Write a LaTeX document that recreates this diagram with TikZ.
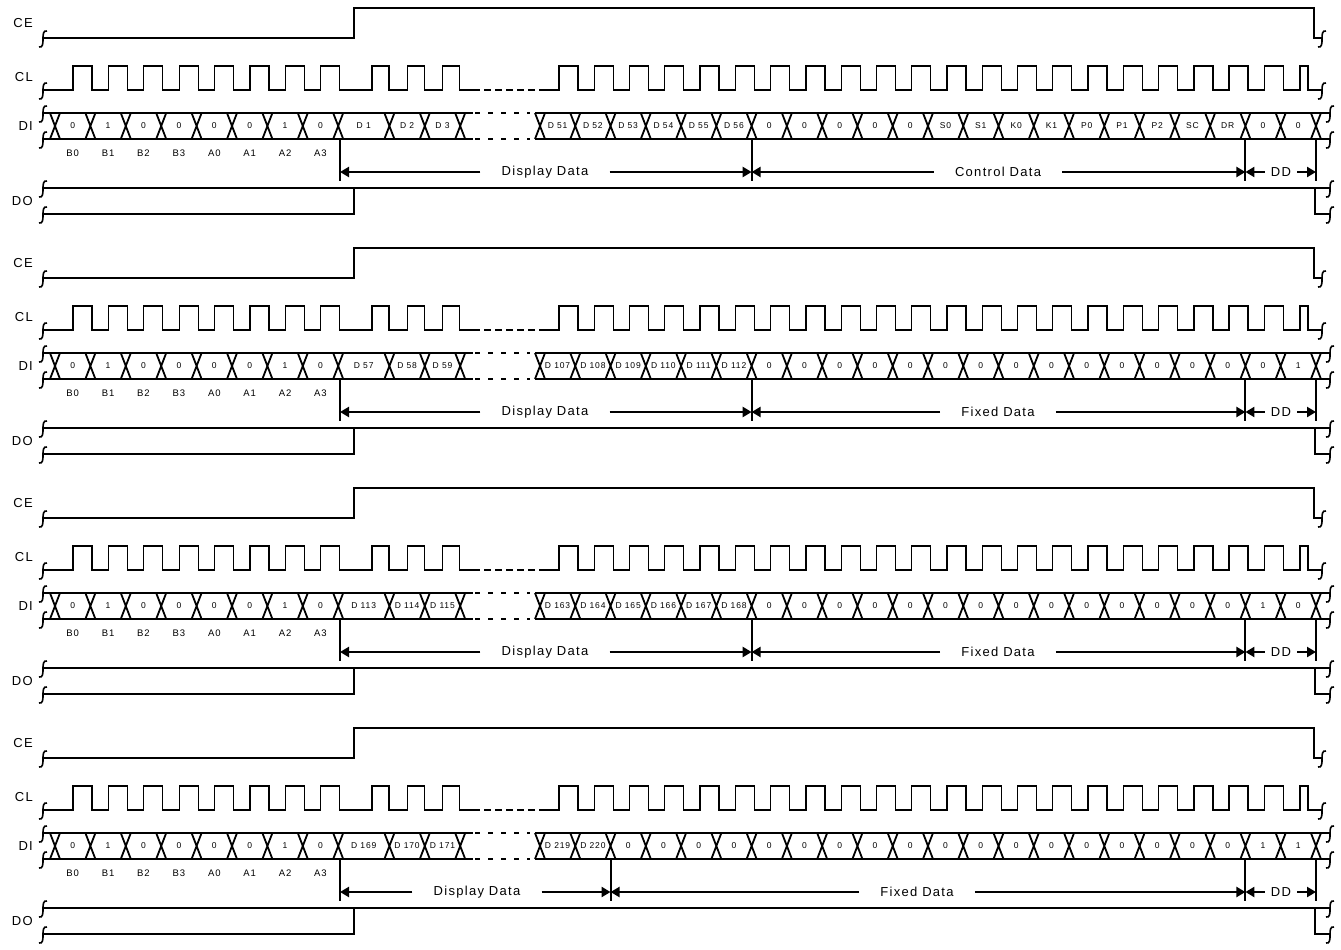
\documentclass[tikz,border=0pt]{standalone}
\usepackage{fontspec}
\setmainfont[LetterSpace=10]{Liberation Sans}
\usetikzlibrary{arrows.meta}

\begin{document}
\begin{tikzpicture}[x=1pt,y=-1pt,
  brk/.pic={\draw[line width=1.6pt] (4,-7) .. controls (0,-8) and (0,-3) .. (0,1) .. controls (0,5) and (0,10) .. (-4,9);}]
\tikzstyle{every node}=[inner sep=0pt]
\tikzstyle{sig}=[line width=1.3pt]
\tikzstyle{bus}=[line width=2.3pt]
\tikzstyle{cross}=[line width=1.8pt]
\tikzstyle{tickline}=[line width=2pt]
\tikzstyle{dim}=[line width=2.3pt,-{Triangle[length=9pt,width=10pt]}]
\tikzstyle{siglabel}=[anchor=east,font=\fontsize{13}{13}\selectfont]
\tikzstyle{bit}=[font=\fontsize{8.5}{8.5}\selectfont]
\tikzstyle{bitname}=[font=\fontsize{9.5}{9.5}\selectfont]
\tikzstyle{dimlabel}=[fill=white,inner xsep=21pt,inner ysep=3pt,font=\fontsize{13}{13}\selectfont]
\useasboundingbox (0,0) rectangle (1341,950);
\foreach \g/\dleft/\dright/\s/\dx/\fx/\fname in {
  0/{D 1,D 2,D 3}/{D 51,D 52,D 53,D 54,D 55,D 56,0,0,0,0,0,S0,S1,K0,K1,P0,P1,P2,SC,DR,0,0}/6/545/998/Control Data,
  1/{D 57,D 58,D 59}/{D 107,D 108,D 109,D 110,D 111,D 112,0,0,0,0,0,0,0,0,0,0,0,0,0,0,0,1}/6/545/998/Fixed Data,
  2/{D 113,D 114,D 115}/{D 163,D 164,D 165,D 166,D 167,D 168,0,0,0,0,0,0,0,0,0,0,0,0,0,0,1,0}/6/545/998/Fixed Data,
  3/{D 169,D 170,D 171}/{D 219,D 220,0,0,0,0,0,0,0,0,0,0,0,0,0,0,0,0,0,0,1,1}/2/477/917/Fixed Data}
{
\begin{scope}[shift={(0,240*\g)}]
% CE
\node[siglabel] (ce\g) at (33,23) {CE};
\draw[sig] (43,38) -- (354,38) -- (354,8) -- (1314,8) -- (1314,38) -- (1322,38);
% CL
\node[siglabel] (cl\g) at (33,77) {CL};
\draw[sig] (43,90) \foreach \k in {0,...,7} { -- ({73+35.4*\k},90) -- ++(0,-24) -- ++(19,0) -- ++(0,24) }
  \foreach \k in {0,1,2} { -- ({372+35.4*\k},90) -- ++(0,-24) -- ++(17,0) -- ++(0,24) } -- (473,90);
\draw[sig,dash pattern=on 7pt off 4pt] (473,90) -- (540,90);
\draw[sig] (540,90) \foreach \k in {0,...,20} { -- ({559+35.27*\k},90) -- ++(0,-24) -- ++(19,0) -- ++(0,24) }
  -- (1300,90) -- (1300,66) -- (1308,66) -- (1308,90) -- (1322,90);
% DI
\node[siglabel] (di\g) at (33,126) {DI};
\draw[bus] (43,113) -- (473,113) (43,139) -- (473,139);
\draw[bus,dash pattern=on 5pt off 8pt] (475,113) -- (530,113) (475,139) -- (530,139);
\draw[bus] (535,113) -- (1330,113) (535,139) -- (1330,139);
\foreach \k in {0,...,8}
  \draw[cross] ({50+35.4*\k},113) -- ++(10,26) ({50+35.4*\k},139) -- ++(10,-26);
\foreach \c in {389.4,424.8,460.2}
  \draw[cross] ({\c-5},113) -- ++(10,26) ({\c-5},139) -- ++(10,-26);
\foreach \k in {0,...,22}
  \draw[cross] ({535+35.27*\k},113) -- ++(10,26) ({535+35.27*\k},139) -- ++(10,-26);
\foreach \t [count=\k from 0] in {0,1,0,0,0,0,1,0}
  \node[bit] (a\g\k) at ({72.7+35.4*\k},126) {\t};
\foreach \t [count=\k from 0] in {B0,B1,B2,B3,A0,A1,A2,A3}
  \node[bitname] (b\g\k) at ({72.7+35.4*\k},153) {\t};
\foreach \t [count=\k from 0] in \dleft
  \node[bit] (l\g\k) at ({ifthenelse(\k==0,363.7,371.7+35.4*\k)},126) {\t};
\foreach \t [count=\k from 0] in \dright
  \node[bit] (r\g\k) at ({557.6+35.27*\k},126) {\t};
% data fields
\coordinate (m0\g) at (340,172);
\coordinate (m1\g) at ({540+35.27*\s},172);
\coordinate (m2\g) at (1245.4,172);
\coordinate (m3\g) at (1316,172);
\draw[tickline] (340,139) -- (340,181);
\draw[tickline] ({540+35.27*\s},139) -- ({540+35.27*\s},181);
\draw[tickline] (1245.4,139) -- (1245.4,181);
\draw[bus] (1316,139) -- (1316,181);
\node[dimlabel] (dsp\g) at (\dx,172) {Display Data};
\draw[dim] (dsp\g.west) -- (m0\g);
\draw[dim] (dsp\g.east) -- (m1\g);
\node[dimlabel] (fix\g) at (\fx,172) {\fname};
\draw[dim] (fix\g.west) -- (m1\g);
\draw[dim] (fix\g.east) -- (m2\g);
\node[dimlabel,inner xsep=6pt] (dd\g) at (1281,172) {DD};
\draw[dim] (dd\g.west) -- (m2\g);
\draw[dim] (dd\g.east) -- (m3\g);
% DO
\node[siglabel] (do\g) at (33,201) {DO};
\draw[bus] (43,188) -- (1330,188);
\draw[sig] (43,214) -- (354,214) -- (354,188);
\draw[line width=1.8pt] (1315,188) -- (1315,214) -- (1330,214);
% breaks
\foreach \x/\y in {43/38,43/90,43/113,43/139,43/188,43/214,1322/38,1322/90,1330/113,1330/139,1330/188,1330/214}
  \path (\x,\y) pic {brk};
\end{scope}
}
\end{tikzpicture}
\end{document}
